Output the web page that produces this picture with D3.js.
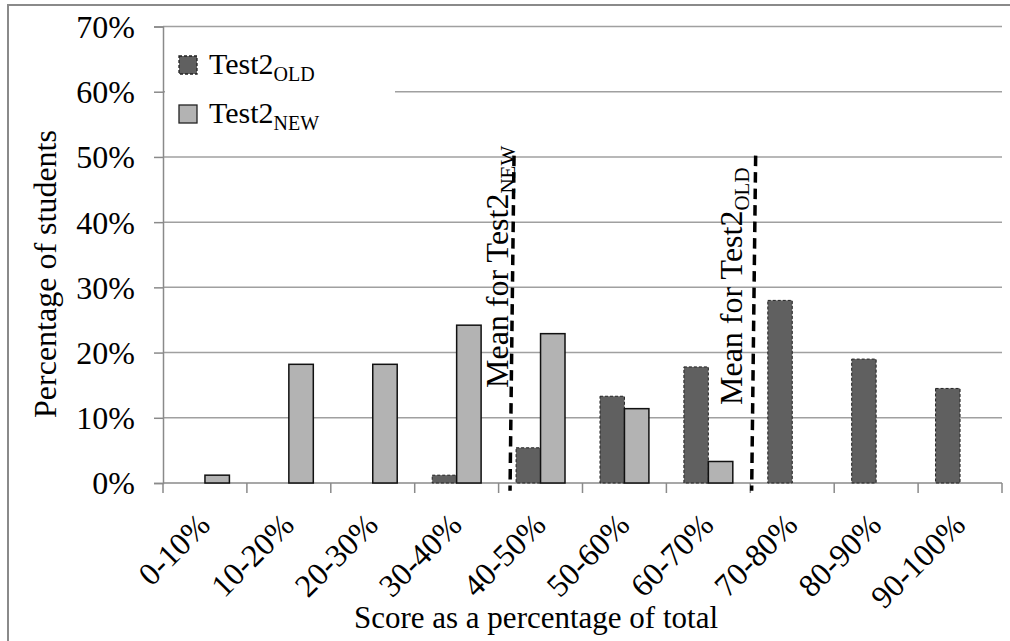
<!DOCTYPE html>
<html>
<head>
<meta charset="utf-8">
<script src="https://cdn.jsdelivr.net/npm/d3@7"></script>
<style>
  body { margin: 0; background: #fff; }
</style>
</head>
<body>
<svg id="chart" width="1010" height="641" font-family="'Liberation Serif', 'Times New Roman', Times, 'DejaVu Serif', serif"></svg>
<script>
// data
const categories = ['0-10%', '10-20%', '20-30%', '30-40%', '40-50%', '50-60%', '60-70%', '70-80%', '80-90%', '90-100%'];
const oldValues = [0, 0, 0, 1.2, 5.4, 13.3, 17.8, 28.0, 19.0, 14.5];
const newValues = [1.2, 18.2, 18.2, 24.2, 22.9, 11.4, 3.3, 0, 0, 0];
const yTicks = [0, 10, 20, 30, 40, 50, 60, 70];
const means = [
    { key: 'NEW', value: 41.6 },
    { key: 'OLD', value: 70.4 }
];

const FONT = "'Liberation Serif', 'Times New Roman', Times, 'DejaVu Serif', serif";
const svg = d3.select('#chart');
const margin = { left: 163, right: 1002, top: 26.5, bottom: 483 };

// outer frame
svg.append('rect')
    .attr('x', 8).attr('y', 5)
    .attr('width', 1010).attr('height', 650)
    .attr('fill', 'none')
    .attr('stroke', '#8a8a8a')
    .attr('stroke-width', 2);

const x = d3.scaleBand()
    .domain(categories)
    .range([margin.left, margin.right])
    .paddingInner(0.417)
    .paddingOuter(0.2085);
const xSub = d3.scaleBand()
    .domain(['OLD', 'NEW'])
    .range([0, x.bandwidth()]);
const xScore = d3.scaleLinear().domain([0, 100]).range([margin.left, margin.right]);
const y = d3.scaleLinear().domain([0, 70]).range([margin.bottom, margin.top]);

// gridlines
svg.append('g')
    .selectAll('line')
    .data(yTicks.filter(d => d > 0))
    .join('line')
    .attr('x1', margin.left).attr('x2', margin.right)
    .attr('y1', d => y(d)).attr('y2', d => y(d))
    .attr('stroke', '#a0a0a0')
    .attr('stroke-width', 1.5);

// y axis
const yAxis = svg.append('g')
    .attr('transform', `translate(${margin.left},0)`)
    .call(d3.axisLeft(y).tickValues(yTicks).tickFormat(d => d + '%').tickSize(9).tickPadding(19));
yAxis.attr('font-family', FONT).attr('font-size', 32);
yAxis.select('.domain').attr('stroke', '#8a8a8a').attr('stroke-width', 1.5);
yAxis.selectAll('.tick line').attr('stroke', '#8a8a8a').attr('stroke-width', 1.5);
yAxis.selectAll('.tick text').attr('fill', '#000').attr('dy', '0.34em');

// x axis
svg.append('line')
    .attr('x1', margin.left).attr('x2', margin.right)
    .attr('y1', margin.bottom).attr('y2', margin.bottom)
    .attr('stroke', '#8a8a8a').attr('stroke-width', 1.5);
const bounds = categories.map(c => x(c) - x.step() * x.paddingInner() / 2).concat([margin.right]);
svg.append('g')
    .selectAll('line')
    .data(bounds)
    .join('line')
    .attr('x1', d => d).attr('x2', d => d)
    .attr('y1', margin.bottom).attr('y2', margin.bottom + 10)
    .attr('stroke', '#8a8a8a').attr('stroke-width', 1.5);

svg.append('g')
    .selectAll('text')
    .data(categories)
    .join('text')
    .attr('transform', d => `translate(${x(d) + x.bandwidth() / 2 + 7},${margin.bottom + 44}) rotate(-45)`)
    .attr('text-anchor', 'end')
    .attr('font-family', FONT)
    .attr('font-size', 32)
    .text(d => d);

// bars
const rows = categories.map((c, i) => ({ cat: c, OLD: oldValues[i], NEW: newValues[i] }));
const barData = [];
rows.forEach(r => {
    ['OLD', 'NEW'].forEach(k => { if (r[k] > 0) barData.push({ cat: r.cat, key: k, value: r[k] }); });
});
svg.append('g')
    .selectAll('rect')
    .data(barData)
    .join('rect')
    .attr('x', d => x(d.cat) + xSub(d.key))
    .attr('y', d => y(d.value))
    .attr('width', xSub.bandwidth())
    .attr('height', d => y(0) - y(d.value))
    .attr('fill', d => d.key === 'OLD' ? '#606060' : '#b3b3b3')
    .attr('stroke', d => d.key === 'OLD' ? '#222' : '#111')
    .attr('stroke-width', d => d.key === 'OLD' ? 1 : 1.5)
    .attr('stroke-dasharray', d => d.key === 'OLD' ? '3,2' : null);

// mean lines
const lean = 2;
svg.append('g')
    .selectAll('line')
    .data(means)
    .join('line')
    .attr('x1', d => xScore(d.value) + lean).attr('y1', y(50.2))
    .attr('x2', d => xScore(d.value) - lean).attr('y2', y(-1.2))
    .attr('stroke', '#000')
    .attr('stroke-width', 3.5)
    .attr('stroke-dasharray', '10.5,6');

const labelPos = { NEW: { dx: -4, y: 388 }, OLD: { dx: -12, y: 405 } };
const mLabels = svg.append('g')
    .selectAll('text')
    .data(means)
    .join('text')
    .attr('transform', d => `translate(${xScore(d.value) + labelPos[d.key].dx},${labelPos[d.key].y}) rotate(-90)`)
    .attr('font-family', FONT)
    .attr('font-size', 32);
mLabels.append('tspan').text('Mean for Test2');
mLabels.append('tspan').attr('font-size', 21).attr('dy', 7).text(d => d.key);

// legend
const legend = svg.append('g');
legend.append('rect')
    .attr('x', 165).attr('y', 32).attr('width', 230).attr('height', 118)
    .attr('fill', '#fff');
const legendItems = [
    { key: 'OLD', fill: '#606060', dash: '3,2', y: 56 },
    { key: 'NEW', fill: '#b3b3b3', dash: null, y: 105 }
];
const li = legend.selectAll('g.item')
    .data(legendItems)
    .join('g')
    .attr('class', 'item');
li.append('rect')
    .attr('x', 179).attr('y', d => d.y)
    .attr('width', 18).attr('height', 18)
    .attr('fill', d => d.fill)
    .attr('stroke', '#222')
    .attr('stroke-width', 1.3)
    .attr('stroke-dasharray', d => d.dash);
const lt = li.append('text')
    .attr('x', 209).attr('y', d => d.y + 18)
    .attr('font-family', FONT)
    .attr('font-size', 30);
lt.append('tspan').text('Test2');
lt.append('tspan').attr('font-size', 20).attr('dy', 7).text(d => d.key);

// axis titles
svg.append('text')
    .attr('transform', 'translate(56,274) rotate(-90)')
    .attr('text-anchor', 'middle')
    .attr('font-family', FONT)
    .attr('font-size', 32)
    .text('Percentage of students');
svg.append('text')
    .attr('x', 536).attr('y', 628)
    .attr('text-anchor', 'middle')
    .attr('font-family', FONT)
    .attr('font-size', 31)
    .text('Score as a percentage of total');
</script>
</body>
</html>
